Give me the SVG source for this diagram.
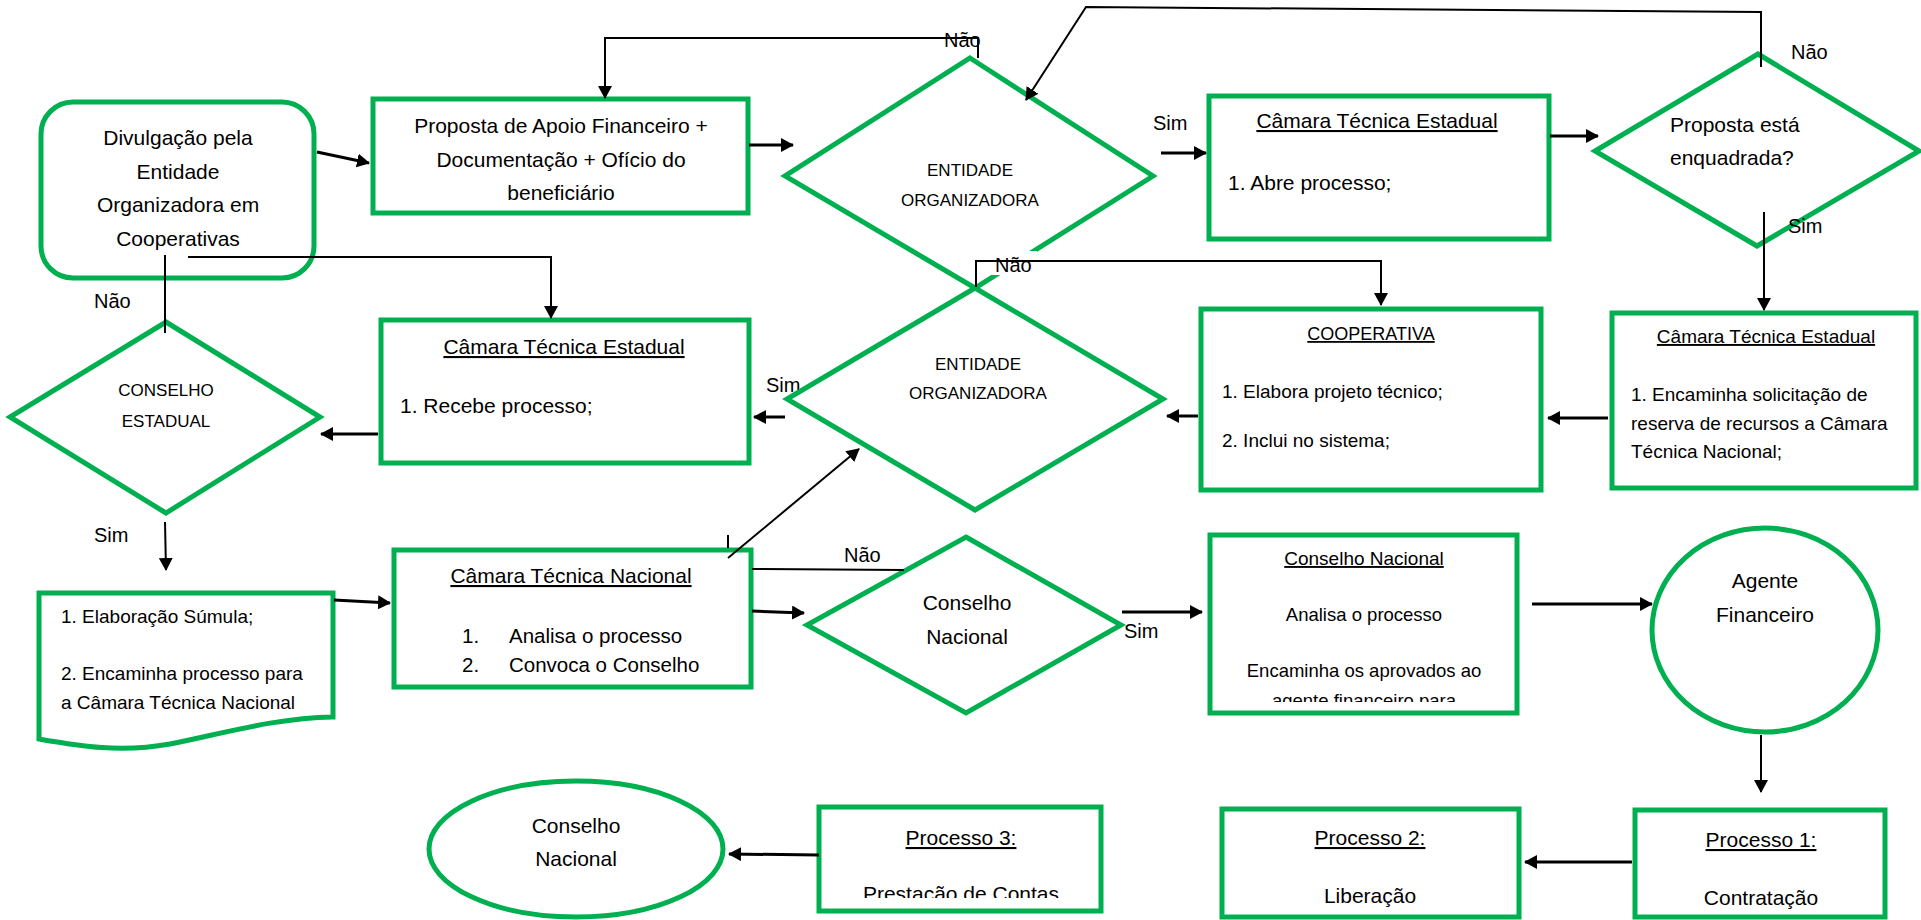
<svg xmlns="http://www.w3.org/2000/svg" width="1921" height="920" viewBox="0 0 1921 920">
<style>
.box{fill:#fff;stroke:#00B050;stroke-width:5}
.t{font-family:"Liberation Sans",Arial,sans-serif;fill:#000}
.c{fill:none;stroke:#000;stroke-width:2}
.c3{fill:none;stroke:#000;stroke-width:3}
.u{text-decoration:underline}
.lbl{font-family:"Liberation Sans",Arial,sans-serif;font-size:20px;fill:#000}
</style>
<defs>
<marker id="ah" markerUnits="userSpaceOnUse" markerWidth="13" markerHeight="14" refX="12" refY="7" orient="auto">
<path d="M0,0 L13,7 L0,14 Z" fill="#000"/>
</marker>
<clipPath id="clipCN"><rect x="1212" y="537" width="303" height="165"/></clipPath>
<clipPath id="clipP3"><rect x="821" y="809" width="278" height="89"/></clipPath>
</defs>
<rect width="1921" height="920" fill="#fff"/>

<g id="n-divulgacao">
<rect class="box" x="41" y="102" width="273" height="176" rx="32"/>
<text class="t" font-size="21" text-anchor="middle" x="178"><tspan x="178" y="145">Divulgação pela</tspan><tspan x="178" y="179">Entidade</tspan><tspan x="178" y="212">Organizadora em</tspan><tspan x="178" y="246">Cooperativas</tspan></text>
</g>

<g id="n-proposta">
<rect class="box" x="373" y="99" width="375" height="114"/>
<text class="t" font-size="21" text-anchor="middle"><tspan x="561" y="133">Proposta de Apoio Financeiro +</tspan><tspan x="561" y="167">Documentação + Ofício do</tspan><tspan x="561" y="200">beneficiário</tspan></text>
</g>

<g id="n-entidade1">
<polygon class="box" points="970,58 1153,176 975,288 785,176"/>
<text class="t" font-size="17" text-anchor="middle"><tspan x="970" y="176">ENTIDADE</tspan><tspan x="970" y="206">ORGANIZADORA</tspan></text>
</g>

<g id="edge-labels-back">
<text class="lbl" x="766" y="392">Sim</text>
<rect x="989" y="251" width="48" height="24" fill="#fff"/>
<text class="lbl" x="995" y="272">Não</text>
</g>

<g id="n-cte-top">
<rect class="box" x="1209" y="96" width="340" height="143"/>
<text class="t u" font-size="21" text-anchor="middle" x="1377" y="128">Câmara Técnica Estadual</text>
<text class="t" font-size="21" x="1228" y="190">1. Abre processo;</text>
</g>

<g id="n-enquadrada">
<polygon class="box" points="1758,54 1919,151 1757,246 1595,151"/>
<text class="t" font-size="21"><tspan x="1670" y="132">Proposta está</tspan><tspan x="1670" y="165">enquadrada?</tspan></text>
</g>

<g id="n-cte-right">
<rect class="box" x="1612" y="313" width="304" height="175"/>
<text class="t u" font-size="19" text-anchor="middle" x="1766" y="343">Câmara Técnica Estadual</text>
<text class="t" font-size="19"><tspan x="1631" y="401">1. Encaminha solicitação de</tspan><tspan x="1631" y="430">reserva de recursos a Câmara</tspan><tspan x="1631" y="458">Técnica Nacional;</tspan></text>
</g>

<g id="n-cooperativa">
<rect class="box" x="1201" y="309" width="340" height="181"/>
<text class="t u" font-size="18" text-anchor="middle" x="1371" y="340">COOPERATIVA</text>
<text class="t" font-size="19"><tspan x="1222" y="398">1. Elabora projeto técnico;</tspan><tspan x="1222" y="447">2. Inclui no sistema;</tspan></text>
</g>

<g id="n-entidade2">
<polygon class="box" points="975,288 1163,399 975,510 787,399"/>
<text class="t" font-size="17" text-anchor="middle"><tspan x="978" y="370">ENTIDADE</tspan><tspan x="978" y="399">ORGANIZADORA</tspan></text>
</g>

<g id="n-cte-left">
<rect class="box" x="381" y="320" width="368" height="143"/>
<text class="t u" font-size="21" text-anchor="middle" x="564" y="354">Câmara Técnica Estadual</text>
<text class="t" font-size="21" x="400" y="413">1. Recebe processo;</text>
</g>

<g id="n-conselho-estadual">
<polygon class="box" points="166,322 320,417 166,513 10,417"/>
<text class="t" font-size="17" text-anchor="middle"><tspan x="166" y="396">CONSELHO</tspan><tspan x="166" y="427">ESTADUAL</tspan></text>
</g>

<g id="n-sumula">
<path class="box" d="M39,593 H333 V717 C275,718 225,733 170,744 C120,753 80,746 39,739 Z"/>
<text class="t" font-size="19"><tspan x="61" y="623">1. Elaboração Súmula;</tspan><tspan x="61" y="680">2. Encaminha processo para</tspan><tspan x="61" y="709">a Câmara Técnica Nacional</tspan></text>
</g>

<g id="n-ctn">
<rect class="box" x="394" y="550" width="357" height="137"/>
<text class="t u" font-size="21" text-anchor="middle" x="571" y="583">Câmara Técnica Nacional</text>
<text class="t" font-size="20.5"><tspan x="462" y="643">1.</tspan><tspan x="509" y="643">Analisa o processo</tspan><tspan x="462" y="672">2.</tspan><tspan x="509" y="672">Convoca o Conselho</tspan></text>
</g>

<g id="n-cn-diamond">
<polygon class="box" points="966,537 1121,625 966,713 807,625"/>
<text class="t" font-size="21" text-anchor="middle"><tspan x="967" y="610">Conselho</tspan><tspan x="967" y="644">Nacional</tspan></text>
</g>

<g id="n-cn-box">
<rect class="box" x="1210" y="535" width="307" height="178"/>
<text class="t u" font-size="19" text-anchor="middle" x="1364" y="565">Conselho Nacional</text>
<text class="t" font-size="18.5" text-anchor="middle" clip-path="url(#clipCN)"><tspan x="1364" y="621">Analisa o processo</tspan><tspan x="1364" y="677">Encaminha os aprovados ao</tspan><tspan x="1364" y="707">agente financeiro para</tspan></text>
</g>

<g id="n-agente">
<ellipse class="box" cx="1765" cy="630" rx="113" ry="102"/>
<text class="t" font-size="21" text-anchor="middle"><tspan x="1765" y="588">Agente</tspan><tspan x="1765" y="622">Financeiro</tspan></text>
</g>

<g id="n-processo1">
<rect class="box" x="1635" y="810" width="250" height="107"/>
<text class="t u" font-size="21" text-anchor="middle" x="1761" y="847">Processo 1:</text>
<text class="t" font-size="21" text-anchor="middle" x="1761" y="905">Contratação</text>
</g>

<g id="n-processo2">
<rect class="box" x="1222" y="809" width="297" height="108"/>
<text class="t u" font-size="21" text-anchor="middle" x="1370" y="845">Processo 2:</text>
<text class="t" font-size="21" text-anchor="middle" x="1370" y="903">Liberação</text>
</g>

<g id="n-processo3">
<rect class="box" x="819" y="807" width="282" height="104"/>
<text class="t u" font-size="21" text-anchor="middle" x="961" y="845">Processo 3:</text>
<text class="t" font-size="21" text-anchor="middle" x="961" y="901" clip-path="url(#clipP3)">Prestação de Contas</text>
</g>

<g id="n-cn-ellipse">
<ellipse class="box" cx="576" cy="849" rx="147" ry="68"/>
<text class="t" font-size="21" text-anchor="middle"><tspan x="576" y="833">Conselho</tspan><tspan x="576" y="866">Nacional</tspan></text>
</g>

<g id="connectors">
<line class="c3" x1="317" y1="152" x2="369" y2="163" marker-end="url(#ah)"/>
<line class="c3" x1="749" y1="145" x2="793" y2="145" marker-end="url(#ah)"/>
<polyline class="c" points="978,58 978,38 605,38 605,98" marker-end="url(#ah)"/>
<polyline class="c" points="1761,67 1761,12 1086,7 1026,100" marker-end="url(#ah)"/>
<line class="c3" x1="1161" y1="153" x2="1206" y2="153" marker-end="url(#ah)"/>
<line class="c3" x1="1550" y1="136" x2="1598" y2="136" marker-end="url(#ah)"/>
<line class="c" x1="1764" y1="212" x2="1764" y2="310" marker-end="url(#ah)"/>
<line class="c3" x1="1608" y1="418" x2="1548" y2="418" marker-end="url(#ah)"/>
<line class="c3" x1="1198" y1="416" x2="1167" y2="416" marker-end="url(#ah)"/>
<polyline class="c" points="976,287 976,261 1381,261 1381,305" marker-end="url(#ah)"/>
<line class="c3" x1="785" y1="417" x2="754" y2="417" marker-end="url(#ah)"/>
<line class="c" x1="165" y1="255" x2="165" y2="333"/>
<polyline class="c" points="188,257 551,257 551,318" marker-end="url(#ah)"/>
<line class="c3" x1="378" y1="434" x2="321" y2="434" marker-end="url(#ah)"/>
<line class="c" x1="165" y1="522" x2="166" y2="570" marker-end="url(#ah)"/>
<line class="c3" x1="334" y1="600" x2="390" y2="603" marker-end="url(#ah)"/>
<line class="c" x1="728" y1="558" x2="859" y2="449" marker-end="url(#ah)"/>
<line class="c" x1="728" y1="535" x2="728" y2="548" stroke-width="1.5"/>
<line class="c" x1="752" y1="569" x2="904" y2="570"/>
<line class="c3" x1="752" y1="611" x2="804" y2="613" marker-end="url(#ah)"/>
<line class="c3" x1="1122" y1="612" x2="1202" y2="612" marker-end="url(#ah)"/>
<line class="c3" x1="1532" y1="604" x2="1652" y2="604" marker-end="url(#ah)"/>
<line class="c" x1="1761" y1="735" x2="1761" y2="792" marker-end="url(#ah)"/>
<line class="c3" x1="1632" y1="862" x2="1525" y2="862" marker-end="url(#ah)"/>
<line class="c3" x1="819" y1="855" x2="729" y2="854" marker-end="url(#ah)"/>
</g>

<g id="edge-labels">
<text class="lbl" x="944" y="47">Não</text>
<text class="lbl" x="1791" y="59">Não</text>
<text class="lbl" x="1153" y="130">Sim</text>
<text class="lbl" x="1788" y="233">Sim</text>
<text class="lbl" x="94" y="308">Não</text>
<text class="lbl" x="94" y="542">Sim</text>
<text class="lbl" x="844" y="562">Não</text>
<text class="lbl" x="1124" y="638">Sim</text>
</g>
</svg>
